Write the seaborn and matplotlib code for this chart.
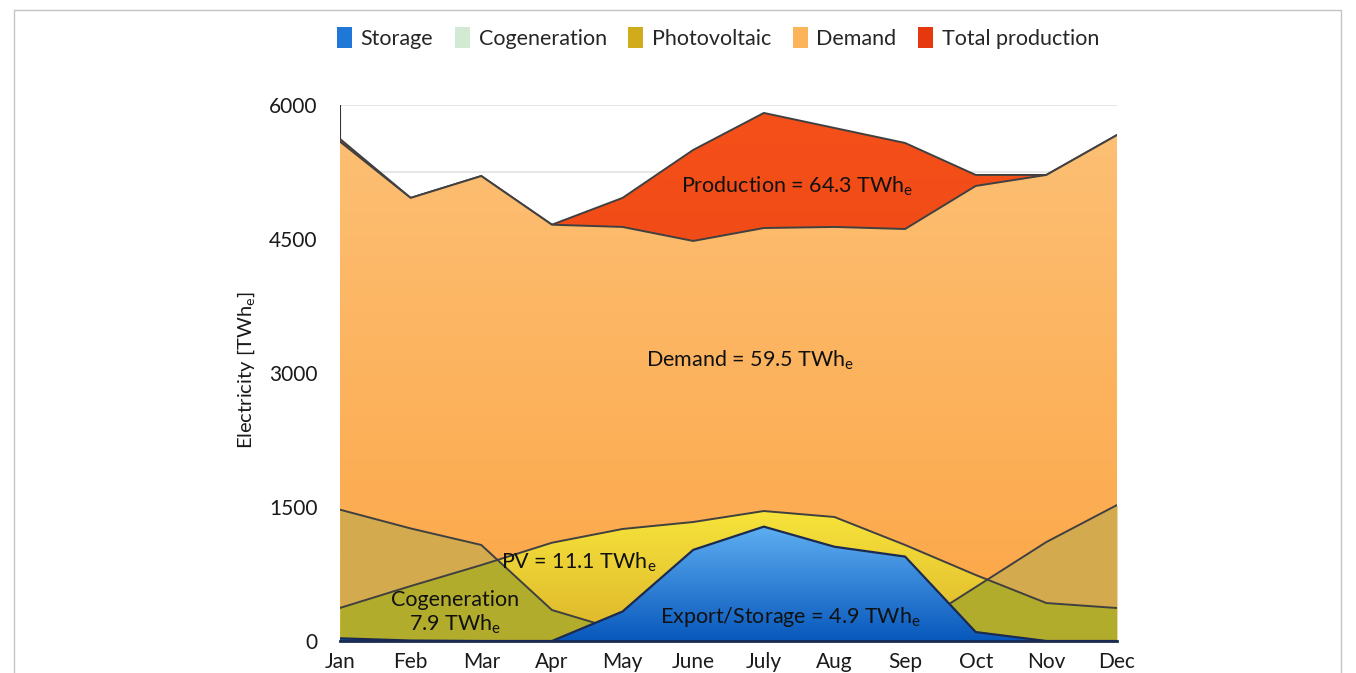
import numpy as np
import matplotlib
matplotlib.use('Agg')
import matplotlib.pyplot as plt
from matplotlib.colors import LinearSegmentedColormap
from matplotlib.patches import Patch
from matplotlib.lines import Line2D
import seaborn as sns

sns.set_theme(style='white')
plt.rcParams['font.family'] = ['Lato', 'DejaVu Sans']
plt.rcParams['mathtext.fontset'] = 'custom'
plt.rcParams['mathtext.rm'] = 'Lato'

months = ['Jan', 'Feb', 'Mar', 'Apr', 'May', 'June', 'July', 'Aug', 'Sep', 'Oct', 'Nov', 'Dec']
demand = [5590, 4960, 5205, 4660, 4635, 4478, 4623, 4635, 4612, 5094, 5217, 5664]
production = [5620, 4960, 5205, 4660, 4960, 5497, 5911, 5743, 5575, 5217, 5217, 5664]
photovoltaic = [370, 615, 850, 1100, 1254, 1332, 1455, 1388, 1075, 739, 425, 369]
cogeneration = [1470, 1260, 1075, 347, 110, 60, 40, 60, 100, 604, 1108, 1522]
storage = [30, 5, 0, 0, 330, 1020, 1280, 1055, 945, 100, 0, 0]

x = np.arange(len(months))
edge = '#404040'

fig = plt.figure(figsize=(13.56, 6.73), dpi=100)
ax = fig.add_axes([340/1356, 1-641/673, (1117-340)/1356, (641-105)/673])


def grad_fill(y, c_top, c_bot, z):
    # area from 0 to y, filled with a vertical gradient
    poly = ax.fill_between(x, 0, y, color='none', lw=0, zorder=z)
    cmap = LinearSegmentedColormap.from_list('g', [c_bot, c_top])
    g = np.linspace(0, 1, 256).reshape(-1, 1)
    im = ax.imshow(g, cmap=cmap, origin='lower', aspect='auto',
                   extent=[0, 11, 0, max(y)], zorder=z, interpolation='bilinear')
    im.set_clip_path(poly.get_paths()[0], transform=ax.transData)
    return poly


# grid lines (only visible above the areas)
for v in np.arange(750, 6001, 750):
    ax.axhline(v, color='#e3e3e3', lw=1.2, zorder=0.5)
ax.plot([0, 0], [0, 6000], color='#333333', lw=1.5, zorder=0.6)

grad_fill(production, '#f5501a', '#e4400e', 1)
sns.lineplot(x=x, y=production, color=edge, lw=1.4, zorder=1.5, ax=ax)

grad_fill(demand, '#fdbf74', '#fca646', 2)
sns.lineplot(x=x, y=demand, color=edge, lw=1.4, zorder=2.5, ax=ax)

# cogeneration over demand (tan)
ax.fill_between(x, 0, cogeneration, color='#d4aa4e', lw=0, zorder=3)
# photovoltaic
pv_poly = grad_fill(photovoltaic, '#f7e43a', '#dcb42c', 4)
# cogeneration over photovoltaic (olive)
olive = ax.fill_between(x, 0, cogeneration, color='#b2ac2c', lw=0, zorder=4.5)
olive.set_clip_path(pv_poly.get_paths()[0], transform=ax.transData)
sns.lineplot(x=x, y=cogeneration, color=edge, lw=1.4, zorder=5, ax=ax)
sns.lineplot(x=x, y=photovoltaic, color=edge, lw=1.4, zorder=5, ax=ax)

grad_fill(storage, '#5eaef2', '#0858bc', 6)
sns.lineplot(x=x, y=storage, color='#1a2a50', lw=1.6, zorder=6.5, ax=ax)

ax.set_xlim(0, 11)
ax.set_ylim(0, 6000)
ax.set_xticks(x)
ax.set_xticklabels(months, fontsize=15, color='#1a1a1a')
ax.set_yticks([0, 1500, 3000, 4500, 6000])
ax.set_yticklabels(['0', '1500', '3000', '4500', '6000'], fontsize=15, color='#1a1a1a')
ax.tick_params(axis='x', length=0, pad=8)
ax.tick_params(axis='y', length=0, pad=16)
for s in ['top', 'right', 'left']:
    ax.spines[s].set_visible(False)
ax.spines['bottom'].set_color('#1a2a50')
ax.spines['bottom'].set_linewidth(2)
ax.spines['bottom'].set_zorder(7)
ax.set_xlabel('')
ax.set_ylabel('Electricity [TWh$_\\mathregular{e}$]', fontsize=14.5, color='#1a1a1a')
ax.yaxis.set_label_coords(-(340-257)/777, (641-370)/536)

tkw = dict(fontsize=15.5, color='#111111', ha='center', va='center', zorder=10)
ax.text(6.47, 5093, 'Production = 64.3 TWh$_\\mathregular{e}$', **tkw)
ax.text(5.81, 3146, 'Demand = 59.5 TWh$_\\mathregular{e}$', **tkw)
ax.text(3.38, 885, 'PV = 11.1 TWh$_\\mathregular{e}$', **tkw)
ax.text(1.63, 313, 'Cogeneration\n7.9 TWh$_\\mathregular{e}$', linespacing=1.1, **tkw)
ax.text(6.37, 270, 'Export/Storage = 4.9 TWh$_\\mathregular{e}$', **tkw)

handles = [Patch(facecolor='#1f78d8', edgecolor='none', label='Storage'),
           Patch(facecolor='#d2ead4', edgecolor='none', label='Cogeneration'),
           Patch(facecolor='#d0ac1c', edgecolor='none', label='Photovoltaic'),
           Patch(facecolor='#fbb45a', edgecolor='none', label='Demand'),
           Patch(facecolor='#e5380e', edgecolor='none', label='Total production')]
fig.legend(handles=handles, loc='center', bbox_to_anchor=(718/1356, 1-38/673), ncol=5,
           frameon=False, fontsize=15.5, handlelength=0.7, handleheight=1.1,
           handletextpad=0.4, columnspacing=1.0)

# thin frame around the figure
fc = '#c4c4c4'
fig.add_artist(Line2D([14/1356, 14/1356], [0, 1-10/673], transform=fig.transFigure, color=fc, lw=1))
fig.add_artist(Line2D([1341/1356, 1341/1356], [0, 1-10/673], transform=fig.transFigure, color=fc, lw=1))
fig.add_artist(Line2D([14/1356, 1341/1356], [1-10/673, 1-10/673], transform=fig.transFigure, color=fc, lw=1))

fig.savefig('out.png', dpi=100)
